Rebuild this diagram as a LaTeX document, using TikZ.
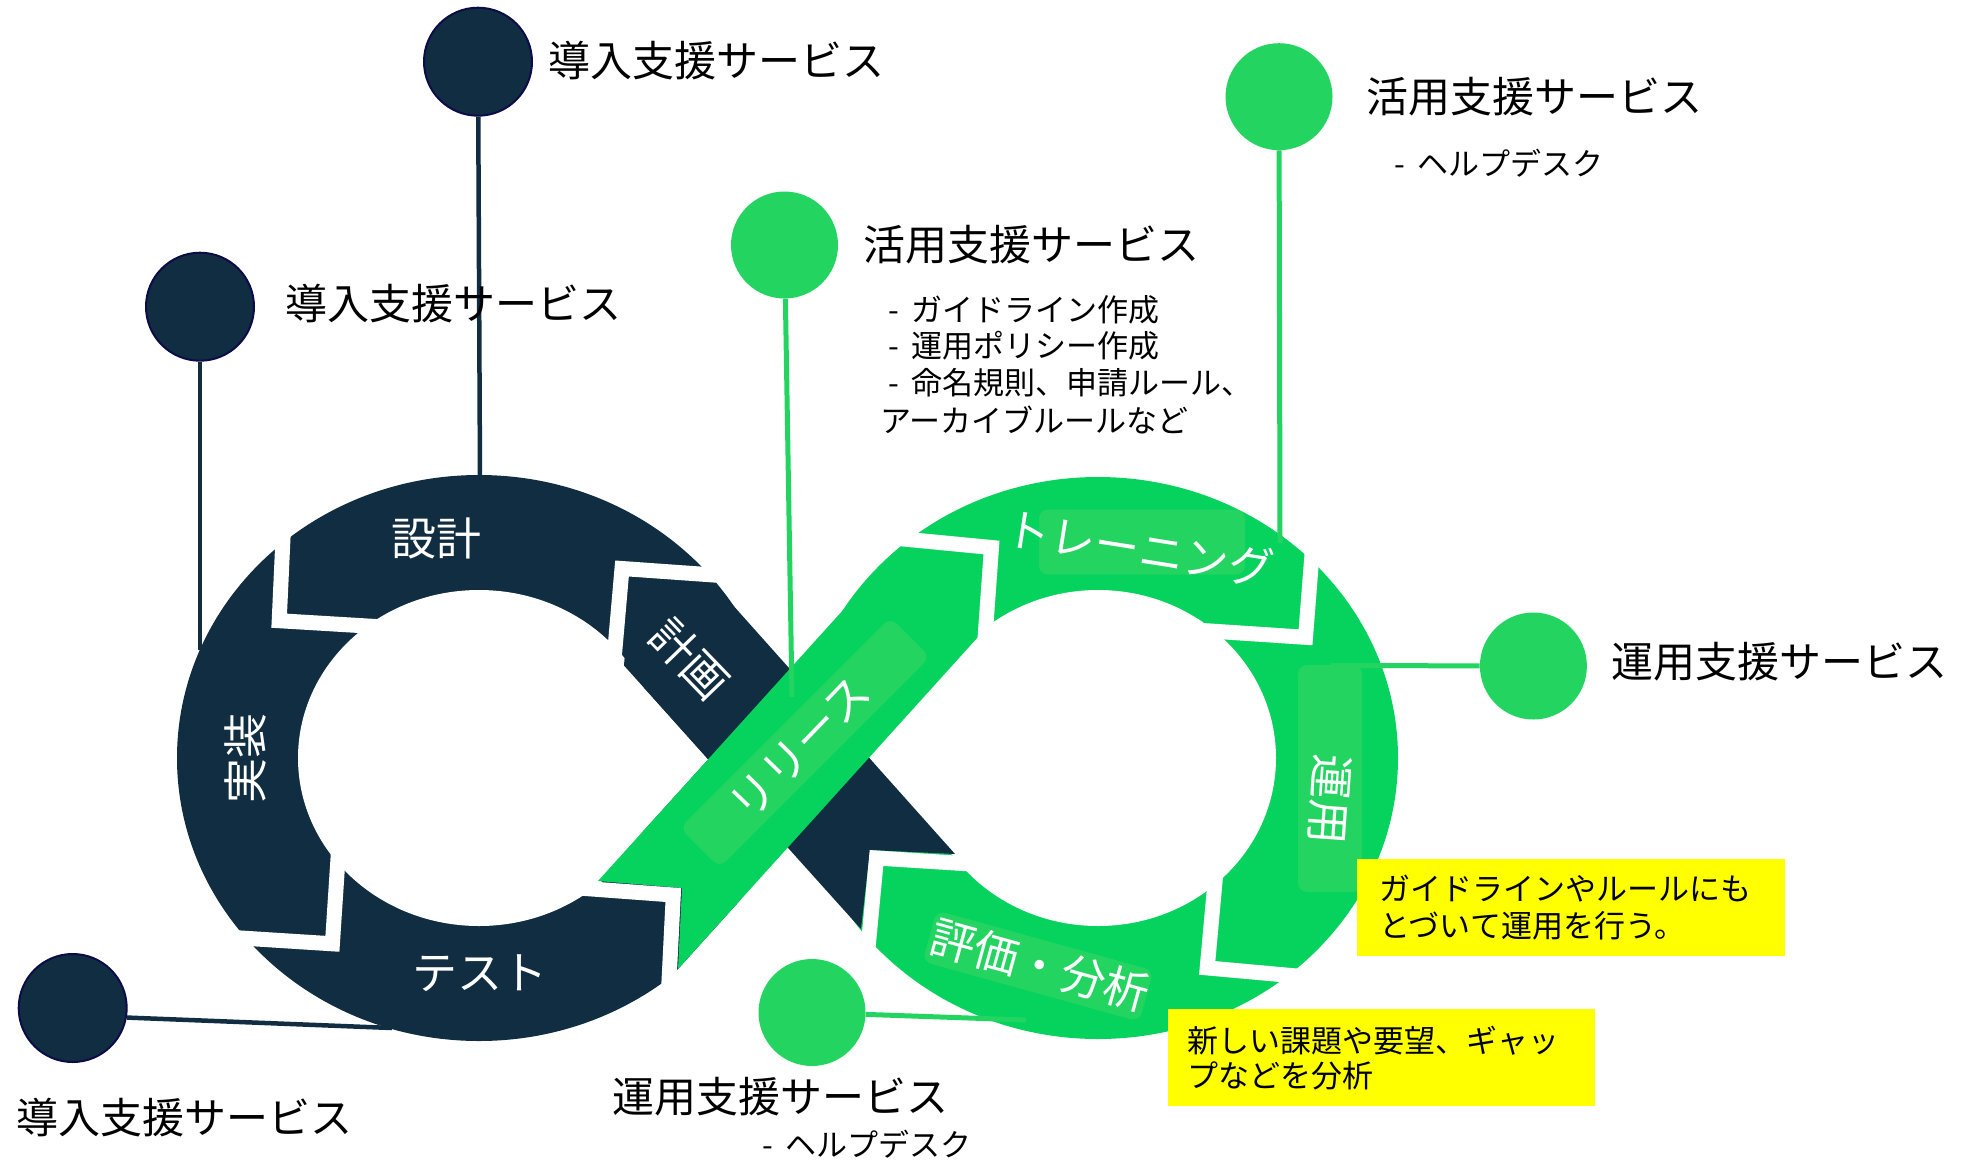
\documentclass[tikz,border=0pt]{standalone}
\usepackage{fontspec}
\setmainfont{Noto Sans CJK JP}
\definecolor{navy}{RGB}{16,45,65}
\definecolor{navyrim}{RGB}{12,12,72}
\definecolor{ringgreen}{RGB}{6,210,94}
\definecolor{softgreen}{RGB}{35,212,96}
\definecolor{notey}{RGB}{255,255,0}
\tikzset{
  bigtxt/.style={anchor=west, inner sep=0pt, font=\fontsize{42}{50}\selectfont},
  subtxt/.style={anchor=west, inner sep=0pt, font=\fontsize{31}{37}\selectfont},
  seglabel/.style={inner sep=0pt, text=white, font=\fontsize{45}{50}\selectfont},
  labelbox/.style={fill=softgreen, rounded corners=9pt, inner sep=0pt},
  gapline/.style={white, line width=15pt, line join=miter, line cap=butt},
  darkdot/.style={circle, fill=navy, draw=navyrim, line width=2pt, minimum size=108pt, inner sep=0pt},
  greendot/.style={circle, fill=softgreen, minimum size=107pt, inner sep=0pt},
  darkconn/.style={navy, line width=4.5pt},
  greenconn/.style={softgreen, line width=5pt},
  notebox/.style={fill=notey, anchor=north west, align=left, inner ysep=0pt, font=\fontsize{31}{37}\selectfont}
}
\newcommand{\dsh}{-\hspace{0.4em}}
\begin{document}
\begin{tikzpicture}[x=1pt,y=-1pt]
\useasboundingbox (0,0) rectangle (1970,1162);

% service dots (dark)
\node[darkdot] (d1) at (478,61.7) {};
\node[darkdot] (d2) at (200,306.7) {};
\node[darkdot] (d3) at (72.7,1008) {};
\coordinate (d1e) at (480,478);
\coordinate (d2e) at (200,650);
\coordinate (d3e) at (392,1028);
\draw[darkconn] (d1) -- (d1e);
\draw[darkconn] (d2) -- (d2e);
\draw[darkconn] (d3.350) -- (d3e);

% left loop (dark)
\begin{scope}
  \clip (378,1301) -- (1278,305) -- (1278,-200) -- (-200,-200) -- (-200,1301) -- cycle;
  \fill[navy] (479,758) ellipse [x radius=302pt, y radius=283pt];
\end{scope}
% right loop (green)
\fill[ringgreen] (1098,758) ellipse [x radius=300pt, y radius=281pt];
% holes
\fill[white] (479,758) ellipse [x radius=181pt, y radius=168pt];
\fill[white] (1098,758) ellipse [x radius=178pt, y radius=168pt];
\fill[white] (479,758) -- (614.1,654.5) -- (708,759.5) -- (614.4,862.8) -- cycle;
\fill[white] (1098,758) -- (962.6,648.9) -- (869,757.7) -- (961.8,866.3) -- cycle;
% crossing bands
\fill[navy] (631,577) -- (714,584) -- (955,854) -- (870,850) -- (861,929) -- (624,665.5) -- cycle;
\fill[ringgreen] (598,881) -- (682,888) -- (678,969) -- (978,637) -- (985,554) -- (901,546) -- cycle;

% white gaps between segments
\draw[gapline] (284.7,500.9) -- (279.2,620.7) -- (394,627.6);
\draw[gapline] (217.6,936.5) -- (332.4,943.8) -- (339.6,834);
\draw[gapline] (565,887) -- (673.3,895) -- (668.3,995);
\draw[gapline] (728,576) -- (622,568.5) -- (614,660);
\draw[gapline] (893,538) -- (991.5,547.5) -- (984,652);
\draw[gapline] (1313.5,535) -- (1305.5,637.3) -- (1195,630);
\draw[gapline] (1216.8,862) -- (1207.2,967.9) -- (1310,977.2);
\draw[gapline] (990,865.2) -- (876.5,858) -- (867.2,957);

% label boxes on green segments
\node[labelbox, minimum width=206pt, minimum height=65pt] (btraining) at (1142,542) {};
\node[labelbox, minimum width=64pt, minimum height=227pt] (bunyo) at (1330,778.5) {};
\node[labelbox, minimum width=298pt, minimum height=56pt, rotate=45] (brelease) at (805,742.5) {};
\node[labelbox, minimum width=225pt, minimum height=53pt, rotate=-15.5] (bhyoka) at (1038,966) {};

% service dots (green)
\node[greendot] (g1) at (784.5,245) {};
\node[greendot] (g2) at (1279,96.7) {};
\node[greendot] (g3) at (1533.4,666) {};
\node[greendot] (g4) at (812,1012.5) {};
\coordinate (g1e) at (792,697);
\coordinate (g2e) at (1280,543);
\coordinate (g3e) at (1331,665.5);
\coordinate (g4e) at (1026,1020);
\draw[greenconn] (g1) -- (g1e);
\draw[greenconn] (g2) -- (g2e);
\draw[greenconn] (g3) -- (g3e);
\draw[greenconn] (g4) -- (g4e);

% segment labels
\node[seglabel] (lsekkei) at (436,538) {設計};
\node[seglabel, rotate=90] (ljisso) at (245.6,758.5) {実装};
\node[seglabel] (ltest) at (480,973) {テスト};
\node[seglabel, rotate=-46] (lkeikaku) at (690,659) {計画};
\node[seglabel, rotate=46] (lrelease) at (800,748) {リリース};
\node[seglabel, rotate=-9] (ltraining) at (1140,548) {トレーニング};
\node[seglabel, rotate=-94] (lunyo) at (1330,800) {運用};
\node[seglabel, rotate=-15.5] (lhyoka) at (1040,965) {評価・分析};

% service texts
\node[bigtxt] (t1) at (548,61) {導入支援サービス};
\node[bigtxt] (t2) at (285,304) {導入支援サービス};
\node[bigtxt] (t3) at (16,1118) {導入支援サービス};
\node[bigtxt] (t4) at (863,245) {活用支援サービス};
\node[subtxt] (t4a) at (888,310) {\dsh ガイドライン作成};
\node[subtxt] (t4b) at (888,346) {\dsh 運用ポリシー作成};
\node[subtxt] (t4c) at (888,383) {\dsh 命名規則、申請ルール、};
\node[subtxt] (t4d) at (880,420) {アーカイブルールなど};
\node[bigtxt] (t5) at (1366,96.7) {活用支援サービス};
\node[subtxt] (t5a) at (1394.6,163) {\dsh ヘルプデスク};
\node[bigtxt] (t6) at (1611,661.7) {運用支援サービス};
\node[bigtxt] (t7) at (612,1097) {運用支援サービス};
\node[subtxt] (t7a) at (762,1144) {\dsh ヘルプデスク};

% notes
\node[notebox, inner xsep=22pt, text width=384pt, minimum height=97pt] (n1) at (1357,859) {ガイドラインやルールにも\\とづいて運用を行う。};
\node[notebox, inner xsep=20pt, text width=387pt, minimum height=97pt, font=\fontsize{31}{35}\selectfont] (n2) at (1167.3,1009) {新しい課題や要望、ギャッ\\プなどを分析};
\end{tikzpicture}
\end{document}
